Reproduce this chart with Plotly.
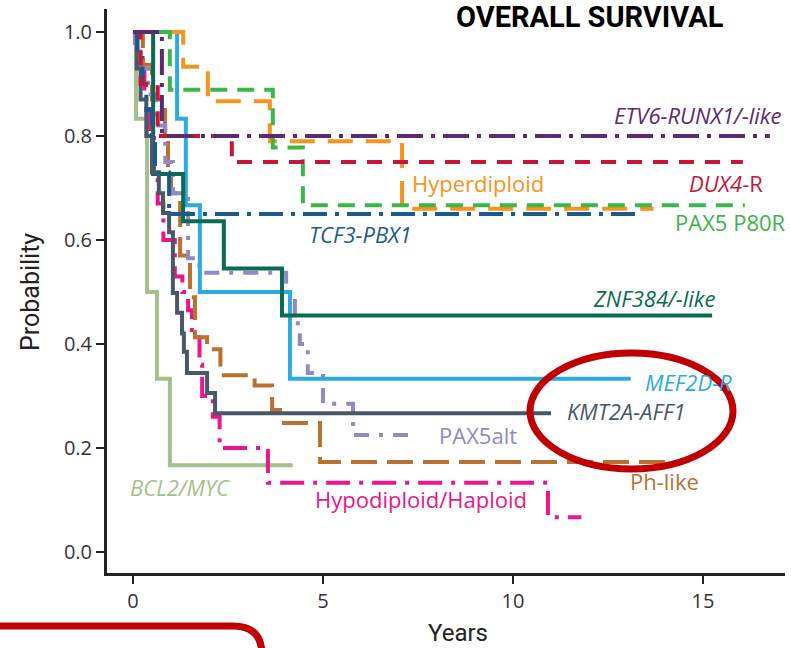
import plotly.graph_objects as go

# ---------------- data ----------------
etv6_t = [0.76]
etv6_s = [0.80]
etv6_end = 16.76

dux4_t = [0.2, 0.65, 2.6]
dux4_s = [0.90, 0.80, 0.75]
dux4_end = 16.05

hyper_t = [1.32, 1.97, 3.6, 7.08]
hyper_s = [0.933, 0.867, 0.79, 0.66]
hyper_end = 13.7

p80r_t = [0.97, 3.68, 4.47]
p80r_s = [0.889, 0.778, 0.667]
p80r_end = 16.1

tcf3_t = [0.12, 0.25, 0.35, 0.5, 0.58, 0.95]
tcf3_s = [0.95, 0.90, 0.85, 0.80, 0.73, 0.65]
tcf3_end = 13.3

znf_t = [0.53, 1.32, 2.39, 3.92]
znf_s = [0.727, 0.636, 0.545, 0.455]
znf_end = 15.24

mef_t = [1.16, 1.39, 1.76, 4.13]
mef_s = [0.833, 0.667, 0.5, 0.333]
mef_end = 13.1

kmt_t = [0.1, 0.2, 0.35, 0.5, 0.68, 0.79, 0.95, 1.05, 1.16, 1.29, 1.34, 1.42, 1.95, 2.16]
kmt_s = [0.93, 0.87, 0.80, 0.73, 0.69, 0.652, 0.615, 0.498, 0.46, 0.42, 0.385, 0.344, 0.306, 0.267]
kmt_end = 11.0

pax5alt_t = [0.05, 0.2, 0.4, 0.6, 0.85, 1.05, 1.45, 1.75, 4.03, 4.26, 4.39, 4.6, 5.0, 5.79]
pax5alt_s = [0.97, 0.93, 0.88, 0.82, 0.75, 0.69, 0.565, 0.537, 0.5, 0.44, 0.4, 0.344, 0.285, 0.225]
pax5alt_end = 7.5

ph_t = [0.26, 0.5, 0.84, 0.92, 1.0, 1.24, 1.5, 1.63, 1.95, 2.3, 3.2, 3.66, 3.87, 4.92]
ph_s = [0.937, 0.87, 0.80, 0.735, 0.69, 0.57, 0.49, 0.413, 0.39, 0.34, 0.32, 0.273, 0.248, 0.173]
ph_end = 14.5

hypo_t = [0.1, 0.3, 0.45, 0.55, 0.65, 0.8, 1.1, 1.3, 1.45, 1.55, 1.75, 1.82, 2.1, 2.28, 3.55, 10.92]
hypo_s = [0.93, 0.87, 0.80, 0.73, 0.67, 0.60, 0.53, 0.50, 0.465, 0.413, 0.36, 0.30, 0.26, 0.20, 0.133, 0.067]
hypo_end = 11.8

bcl2_t = [0.08, 0.37, 0.63, 0.97]
bcl2_s = [0.833, 0.5, 0.333, 0.167]
bcl2_end = 4.2

x_ticks = [0, 5, 10, 15]
y_ticks = [0.0, 0.2, 0.4, 0.6, 0.8, 1.0]
y_ticklabels = ["0.0", "0.2", "0.4", "0.6", "0.8", "1.0"]

# ---------------- styling ----------------
series = [
    # name, t, s, end, color, dash, label, label_x, label_y, anchor
    ("BCL2/MYC", bcl2_t, bcl2_s, bcl2_end, "#A5BF8C", "solid", "<i>BCL2/MYC</i>", -0.13, 0.125, "left"),
    ("Hypodiploid/Haploid", hypo_t, hypo_s, hypo_end, "#EA168C", "24px,9px,4px,9px", "Hypodiploid/Haploid", 4.74, 0.102, "left"),
    ("Ph-like", ph_t, ph_s, ph_end, "#B9712F", "26px,10px", "Ph-like", 13.03, 0.137, "left"),
    ("PAX5alt", pax5alt_t, pax5alt_s, pax5alt_end, "#8F89C5", "15px,10px,4px,10px", "PAX5alt", 8.0, 0.225, "left"),
    ("MEF2D-R", mef_t, mef_s, mef_end, "#2AACE2", "solid", "<i>MEF2D-R</i>", 13.42, 0.327, "left"),
    ("ZNF384/-like", znf_t, znf_s, znf_end, "#0B6A52", "solid", "<i>ZNF384/-like</i>", 12.05, 0.488, "left"),
    ("KMT2A-AFF1", kmt_t, kmt_s, kmt_end, "#4A5866", "solid", "<i>KMT2A-AFF1</i>", 11.37, 0.271, "left"),
    ("TCF3-PBX1", tcf3_t, tcf3_s, tcf3_end, "#1A5B8C", "24px,8px,4px,8px", "<i>TCF3-PBX1</i>", 4.58, 0.612, "left"),
    ("Hyperdiploid", hyper_t, hyper_s, hyper_end, "#F7941D", "25px,13px", "Hyperdiploid", 7.29, 0.71, "left"),
    ("PAX5 P80R", p80r_t, p80r_s, p80r_end, "#3CB54A", "17px,10px", "PAX5 P80R", 14.21, 0.635, "left"),
    ("DUX4-R", dux4_t, dux4_s, dux4_end, "#C8163A", "15px,11px", "<i>DUX4</i>-R", 16.63, 0.71, "right"),
    ("ETV6-RUNX1/-like", etv6_t, etv6_s, etv6_end, "#5C2B6F", "26px,8px,4px,8px", "<i>ETV6-RUNX1/-like</i>", 17.1, 0.84, "right"),
]

W, H = 791, 648
L, R, T, B = 107, 6, 9, 75
X0 = (L - 133) / 38.0
X1 = (W - R - 133) / 38.0
Y0 = (552 - (H - B)) / 520.0
Y1 = (552 - T) / 520.0

label_font = "Open Sans, Lato, sans-serif"
title_font = "Liberation Sans Narrow, Roboto, sans-serif"

fig = go.Figure()
annotations = []
for name, ts, ss, end, color, dash, label, lx, ly, anc in series:
    xs = [0] + list(ts) + [end]
    ys = [1.0] + list(ss) + [ss[-1]]
    fig.add_trace(go.Scatter(
        x=xs, y=ys, mode="lines", name=name,
        line=dict(color=color, width=4, dash=dash, shape="hv"),
        hoverinfo="skip", showlegend=False, cliponaxis=False,
    ))
    annotations.append(dict(
        x=lx, y=ly, xref="x", yref="y", text=label, showarrow=False,
        xanchor=anc, yanchor="middle",
        font=dict(family=label_font, size=22, color=color),
    ))


def px(xp):
    return (xp - L) / (W - L - R)


def py(yp):
    return ((H - B) - yp) / (H - B - T)


# title and axis titles
annotations.append(dict(
    x=px(590), y=py(17), xref="paper", yref="paper",
    text="<b>OVERALL SURVIVAL</b>", showarrow=False, xanchor="center", yanchor="middle",
    font=dict(family=title_font, size=29, color="#000000"),
))
annotations.append(dict(
    x=px(458), y=py(633), xref="paper", yref="paper",
    text="Years", showarrow=False, xanchor="center", yanchor="middle",
    font=dict(family=title_font, size=24, color="#222222"),
))
annotations.append(dict(
    x=px(30), y=py(292), xref="paper", yref="paper",
    text="Probability", showarrow=False, xanchor="center", yanchor="middle", textangle=-90,
    font=dict(family=title_font, size=25, color="#222222"),
))

# red highlight ellipse around KMT2A-AFF1 label
shapes = [dict(
    type="circle", xref="x", yref="y",
    x0=(530 - 133) / 38.0, x1=(733 - 133) / 38.0,
    y0=(552 - 469) / 520.0, y1=(552 - 353) / 520.0,
    line=dict(color="#C00000", width=7), layer="above",
)]

# red rounded box at bottom-left (partly outside the page)
path = (f"M {px(-12)},{py(626)} L {px(233)},{py(626)} "
        f"Q {px(262)},{py(626)} {px(262)},{py(655)} L {px(262)},{py(700)}")
shapes.append(dict(type="path", xref="paper", yref="paper", path=path,
                   line=dict(color="#C00000", width=7), layer="above"))

fig.update_layout(
    width=W, height=H,
    margin=dict(l=L, r=R, t=T, b=B),
    paper_bgcolor="white", plot_bgcolor="white",
    showlegend=False,
    annotations=annotations, shapes=shapes,
    xaxis=dict(range=[X0, X1], tickvals=x_ticks, showgrid=False, zeroline=False,
               showline=True, linecolor="#222222", linewidth=3,
               ticks="outside", ticklen=8, tickwidth=2, tickcolor="#222222",
               tickfont=dict(family=label_font, size=20, color="#333333")),
    yaxis=dict(range=[Y0, Y1], tickvals=y_ticks, ticktext=y_ticklabels, showgrid=False,
               zeroline=False, showline=True, linecolor="#222222", linewidth=3,
               ticks="outside", ticklen=8, tickwidth=2, tickcolor="#222222",
               tickfont=dict(family=label_font, size=20, color="#333333")),
)

fig.write_html("out.html")
